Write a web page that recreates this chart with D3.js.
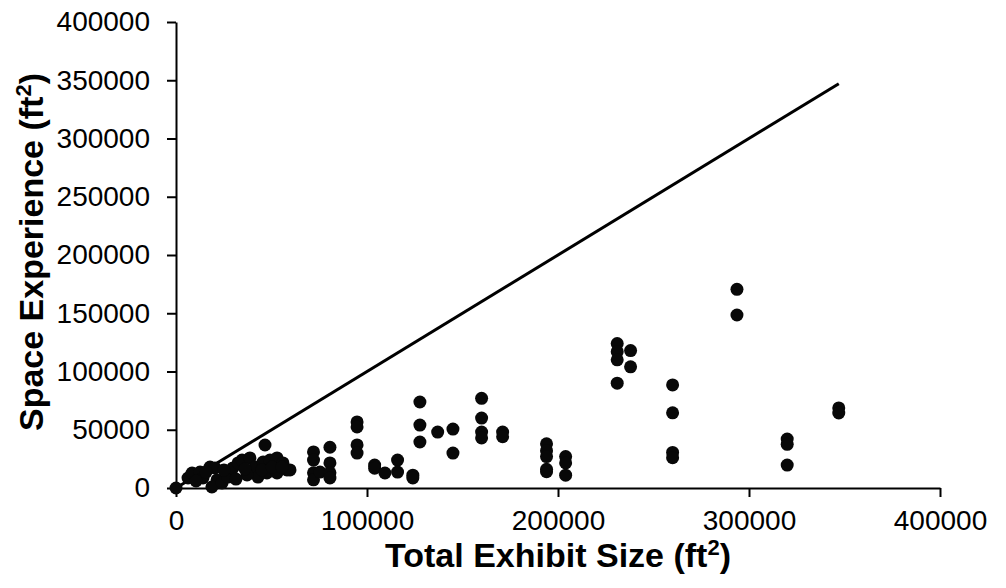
<!DOCTYPE html>
<html>
<head>
<meta charset="utf-8">
<script src="https://cdn.jsdelivr.net/npm/d3@7"></script>
<style>
  body { margin: 0; background: #fff; }
  svg { display: block; }
  text { font-family: "Liberation Sans", Arial, sans-serif; fill: #000; }
</style>
</head>
<body>
<script>
// data (ft^2)
var exhibitSize = [
  0, 6300, 8400, 12600, 14100, 17800, 20400, 21500, 18800, 24100,
  27200, 29800, 32500, 34600, 38700, 41400, 46600, 45600, 49200, 52900,
  56000, 58100, 42900, 37200, 47600, 52900, 59700,
  10500, 15700, 25100, 36100, 45000, 50300, 55500, 31400,
  72000, 72000, 72000, 72000, 75400,
  80600, 80600, 80600, 80600,
  94800, 94800, 94800, 94800,
  104000, 104000, 109400, 116000, 116000, 124000, 124000,
  127700, 127700, 127700, 137000, 145000, 145000,
  160000, 160000, 160000, 160000, 171000, 171000,
  194000, 194000, 194000, 194000, 194000,
  204000, 204000, 204000,
  231000, 231000, 231000, 231000, 238000, 238000,
  260000, 260000, 260000, 260000,
  293700, 293700,
  320000, 320000, 320000,
  347000, 347000
];
var spaceExperience = [
  0, 8600, 12900, 13700, 8600, 18000, 17200, 6900, 900, 4300,
  9400, 17200, 21500, 24000, 25800, 18000, 36900, 22300, 24000, 25800,
  21500, 15500, 9400, 11200, 12900, 12900, 15500,
  6000, 13700, 15500, 16300, 15500, 18000, 18000, 7700,
  31000, 24000, 13000, 7000, 13700,
  35000, 21500, 13000, 8600,
  56700, 52400, 37000, 30000,
  19700, 17000, 12900, 24000, 13700, 11000, 8600,
  73800, 54000, 39500, 48000, 50600, 30000,
  77000, 60000, 48000, 43000, 48000, 44000,
  38000, 32000, 27000, 16000, 14000,
  27000, 21500, 11000,
  124000, 117000, 110000, 90000, 118000, 104000,
  88500, 64500, 30500, 26000,
  170500, 148500,
  42000, 37500, 19700,
  68700, 64400
];
// the y = x reference line
var lineX = [0, 347000];
var lineY = [0, 347000];

var xTicks = [0, 100000, 200000, 300000, 400000];
var yTicks = [0, 50000, 100000, 150000, 200000, 250000, 300000, 350000, 400000];

var width = 1006, height = 588;

var svg = d3.select("body").append("svg")
    .attr("width", width)
    .attr("height", height);

var x = d3.scaleLinear().domain([0, 400000]).range([176, 940]);
var y = d3.scaleLinear().domain([0, 400000]).range([488, 22]);

// axes
var xAxis = svg.append("g")
    .attr("transform", "translate(0,488)")
    .call(d3.axisBottom(x).tickValues(xTicks).tickFormat(d3.format("d"))
        .tickSize(9).tickSizeOuter(0).tickPadding(13));
var yAxis = svg.append("g")
    .attr("transform", "translate(176,0)")
    .call(d3.axisLeft(y).tickValues(yTicks).tickFormat(d3.format("d"))
        .tickSize(9).tickSizeOuter(0));

[xAxis, yAxis].forEach(function(g){
    g.select(".domain").attr("stroke", "#000").attr("stroke-width", 2);
    g.selectAll(".tick line").attr("stroke", "#000").attr("stroke-width", 2);
    g.selectAll(".tick text")
        .attr("font-size", 28)
        .style("font-family", "'Liberation Sans', Arial, sans-serif")
        .attr("fill", "#000");
});
yAxis.selectAll(".tick text").attr("x", -26);

// reference line
svg.append("line")
    .attr("x1", x(lineX[0])).attr("y1", y(lineY[0]))
    .attr("x2", x(lineX[1])).attr("y2", y(lineY[1]))
    .attr("stroke", "#000")
    .attr("stroke-width", 3);

// points
svg.append("g").selectAll("circle")
    .data(exhibitSize)
    .join("circle")
    .attr("cx", function(d){ return x(d); })
    .attr("cy", function(d, i){ return y(spaceExperience[i]); })
    .attr("r", 6.5)
    .attr("fill", "#080808");

// axis titles
var xt = svg.append("text")
    .attr("transform", "translate(558,567)")
    .attr("text-anchor", "middle")
    .attr("font-size", 34)
    .attr("font-weight", "bold");
xt.append("tspan").text("Total Exhibit Size (ft");
xt.append("tspan").attr("font-size", 22).attr("dy", -12).text("2");
xt.append("tspan").attr("dy", 12).text(")");

var yt = svg.append("text")
    .attr("transform", "translate(43,252) rotate(-90)")
    .attr("text-anchor", "middle")
    .attr("font-size", 34)
    .attr("font-weight", "bold");
yt.append("tspan").text("Space Experience (ft");
yt.append("tspan").attr("font-size", 22).attr("dy", -12).text("2");
yt.append("tspan").attr("dy", 12).text(")");
</script>
</body>
</html>
